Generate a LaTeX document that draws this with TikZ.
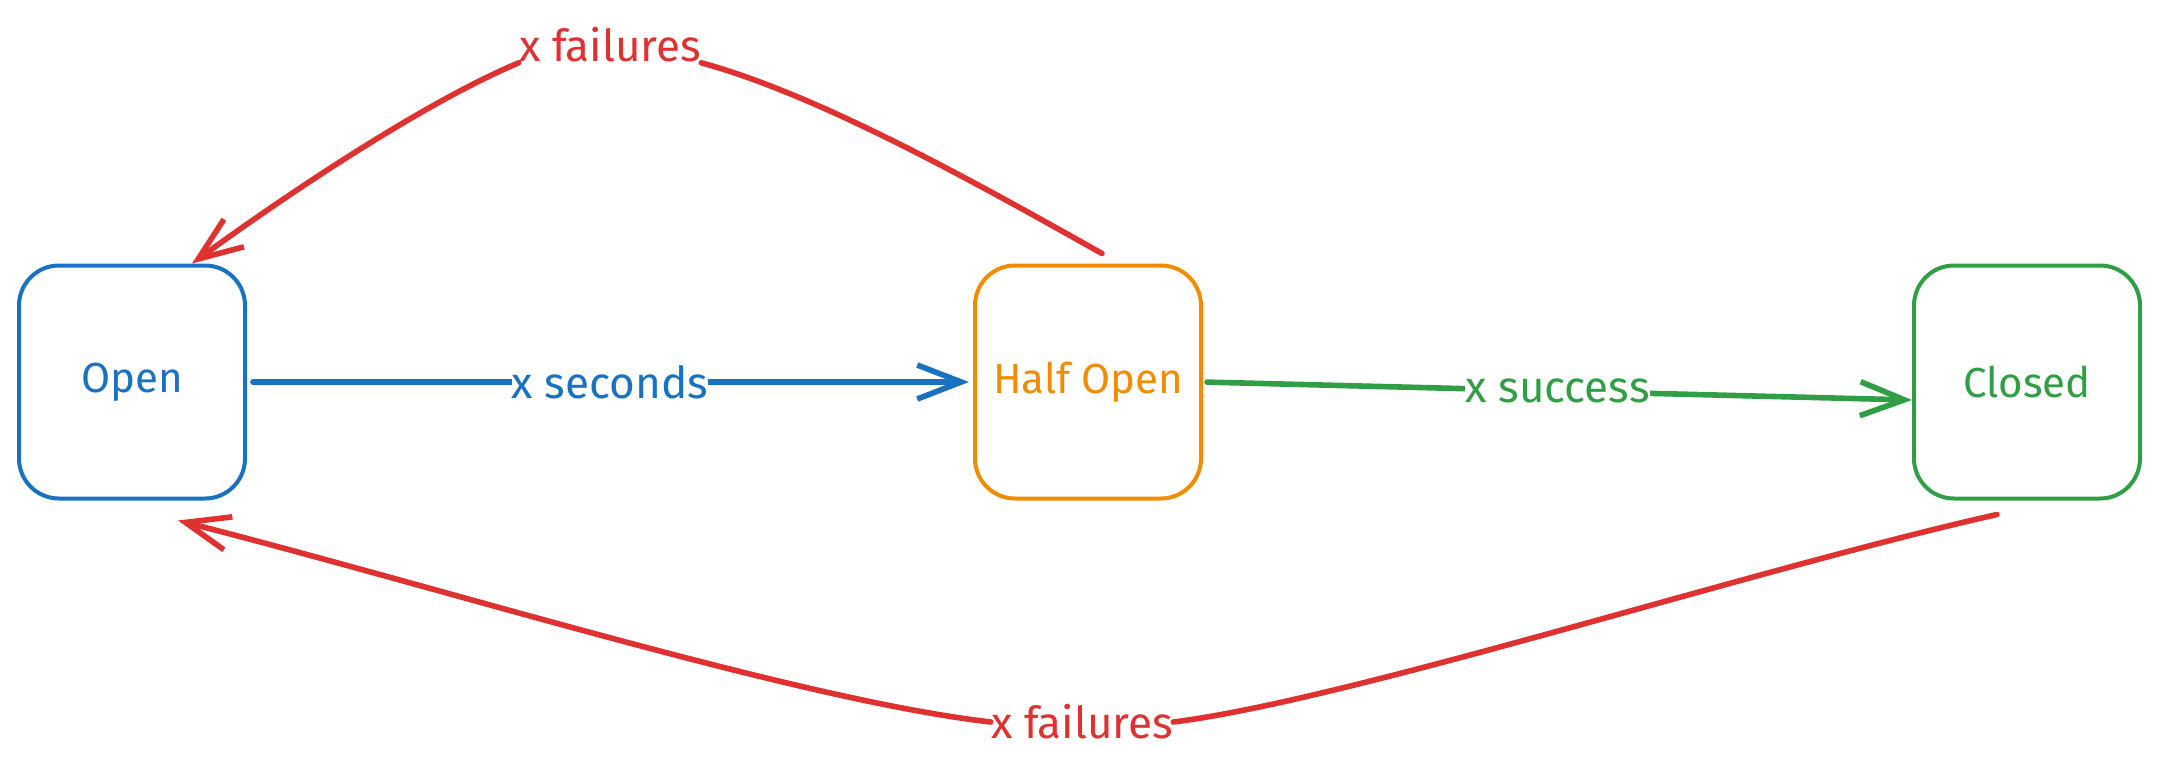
\documentclass[tikz,border=0pt]{standalone}
\usepackage{fontspec}
\setmainfont{Fira Sans}
\usetikzlibrary{arrows.meta}

\definecolor{openblue}{RGB}{25,113,194}
\definecolor{halforange}{RGB}{240,140,0}
\definecolor{closedgreen}{RGB}{47,158,68}
\definecolor{failred}{RGB}{224,49,49}

\begin{document}
\begin{tikzpicture}[x=0.5pt,y=0.5pt,yscale=-1,xscale=1,
  state/.style={draw, line width=2pt, rounded corners=20pt, minimum width=113pt, minimum height=116.5pt, font=\fontsize{21}{25}\selectfont},
  flow/.style={line width=2.8pt, line cap=round, -{Straight Barb[length=22pt,width=17pt]}},
  tag/.style={fill=white, inner sep=0pt, font=\fontsize{22}{26}\selectfont}]
\useasboundingbox (0,0) rectangle (2160,767);

%Shape: Rectangle [id:open]
\node[state, draw=openblue, text=openblue] (open) at (132,382) {Open};
%Shape: Rectangle [id:half]
\node[state, draw=halforange, text=halforange] (half) at (1088,382) {Half Open};
%Shape: Rectangle [id:closed]
\node[state, draw=closedgreen, text=closedgreen] (closed) at (2027,382) {Closed};

%Straight Lines [id:seconds]
\draw[flow, openblue, shorten <=3pt, shorten >=2pt] (open) -- node[tag] {x seconds} (half);
%Straight Lines [id:success]
\draw[flow, closedgreen, shorten <=2pt] (half.east) -- node[tag] {x success} ([yshift=9pt]closed.west);

% Text Node
\node[tag, text=failred] (topfail) at (610,45) {x failures};
% Text Node
\node[tag, text=failred] (botfail) at (1082,722) {x failures};

%Curve Lines [id:topback]
\draw[line width=2.8pt, line cap=round, failred] ([xshift=7pt,yshift=-5pt]half.north) .. controls (980,185) and (820,95) .. (topfail.south east);
\draw[flow, failred] (topfail.south west) .. controls (430,100) and (300,185) .. ([xshift=30pt]open.north);
%Curve Lines [id:botback]
\draw[line width=2.8pt, line cap=round, failred] ([xshift=-15pt,yshift=7pt]closed.south) .. controls (1750,570) and (1350,700) .. (botfail.east);
\draw[flow, failred] (botfail.west) .. controls (800,700) and (450,590) .. ([xshift=23pt,yshift=10pt]open.south);

\end{tikzpicture}
\end{document}
